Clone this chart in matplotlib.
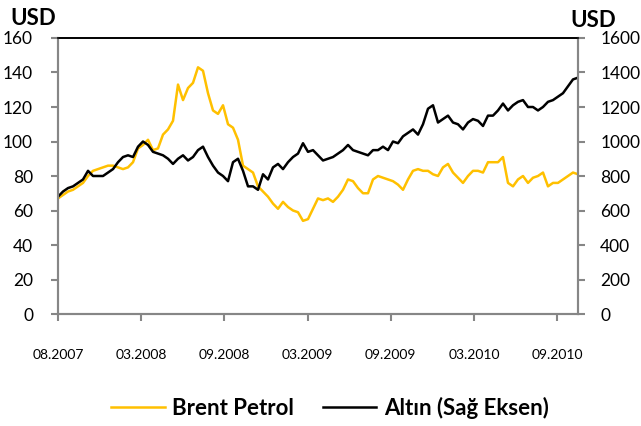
import matplotlib
matplotlib.use('Agg')
import matplotlib.pyplot as plt
import numpy as np

# Brent oil (USD/bbl), read roughly every 5 px along the chart
brent = [67, 69, 71, 72, 74, 76, 80, 83, 84, 85, 86, 86, 85, 84, 85, 88, 96, 98,
         101, 95, 96, 104, 107, 112, 133, 124, 131, 134, 143, 141, 128, 118, 116,
         121, 110, 108, 101, 86, 84, 82, 74, 71, 68, 64, 61, 65, 62, 60, 59, 54,
         55, 61, 67, 66, 67, 65, 68, 72, 78, 77, 73, 70, 70, 78, 80, 79, 78, 77,
         75, 72, 78, 83, 84, 83, 83, 81, 80, 85, 87, 82, 79, 76, 80, 83, 83, 82,
         88, 88, 88, 91, 76, 74, 78, 80, 76, 79, 80, 82, 74, 76, 76, 78, 80, 82, 81]

# Gold (USD/oz), right axis
gold = [680, 710, 730, 740, 760, 780, 830, 800, 800, 800, 820, 840, 880, 910, 920,
        910, 970, 1000, 980, 940, 930, 920, 900, 870, 900, 920, 890, 910, 950, 970,
        910, 860, 820, 800, 770, 880, 900, 830, 740, 740, 720, 810, 780, 850, 870,
        840, 880, 910, 930, 990, 940, 950, 920, 890, 900, 910, 930, 950, 980, 950,
        940, 930, 920, 950, 950, 970, 950, 1000, 990, 1030, 1050, 1070, 1040, 1100,
        1190, 1210, 1110, 1130, 1150, 1110, 1100, 1070, 1110, 1130, 1120, 1090, 1150,
        1150, 1180, 1220, 1180, 1210, 1230, 1240, 1200, 1200, 1180, 1200, 1230, 1240,
        1260, 1280, 1320, 1360, 1370]

tick_labels = ['08.2007', '03.2008', '09.2008', '03.2009', '09.2009', '03.2010', '09.2010']

span = 6.25  # plot width measured in tick intervals
x = np.linspace(0, span, len(brent))

oil_color = '#FFC000'
axis_grey = '#868686'
font = 'Lato'

fig = plt.figure(figsize=(6.41, 4.26), dpi=100)
ax = fig.add_axes([0.0905, 0.2629, 0.8112, 0.6479])
ax2 = ax.twinx()

l1, = ax.plot(x, brent, color=oil_color, lw=1.8, label='Brent Petrol')
l2, = ax2.plot(x, gold, color='black', lw=1.8, label='Altın (Sağ Eksen)')

ax.set_xlim(0, span)
ax.set_ylim(0, 160)
ax2.set_ylim(0, 1600)
ax.set_yticks(np.arange(0, 161, 20))
ax2.set_yticks(np.arange(0, 1601, 200))
ax.set_xticks(np.arange(len(tick_labels)))
ax.set_xticklabels(tick_labels)

for a in (ax, ax2):
    for s in ('left', 'right', 'bottom'):
        a.spines[s].set_color(axis_grey)
        a.spines[s].set_linewidth(1.5)
    a.spines['top'].set_color('black')
    a.spines['top'].set_linewidth(1.2)

ax.tick_params(axis='y', length=5, width=1.5, color=axis_grey, pad=13, labelsize=12.5)
ax2.tick_params(axis='y', length=5, width=1.5, color=axis_grey, pad=11, labelsize=12.5)
ax.tick_params(axis='x', length=5, width=1.5, color=axis_grey, pad=20, labelsize=10)
for lab in ax.get_yticklabels() + ax2.get_yticklabels() + ax.get_xticklabels():
    lab.set_fontfamily(font)

fig.text(0.016, 0.957, 'USD', fontsize=16, fontweight='bold', family=font, va='center')
fig.text(0.890, 0.952, 'USD', fontsize=16, fontweight='bold', family=font, va='center')

fig.legend(handles=[l1, l2], loc='center', bbox_to_anchor=(0.515, 0.042), ncol=2,
           frameon=False, handlelength=2.4, handletextpad=0.35, columnspacing=1.3,
           prop={'family': font, 'weight': 'bold', 'size': 16})

fig.savefig('out.png', dpi=100)
